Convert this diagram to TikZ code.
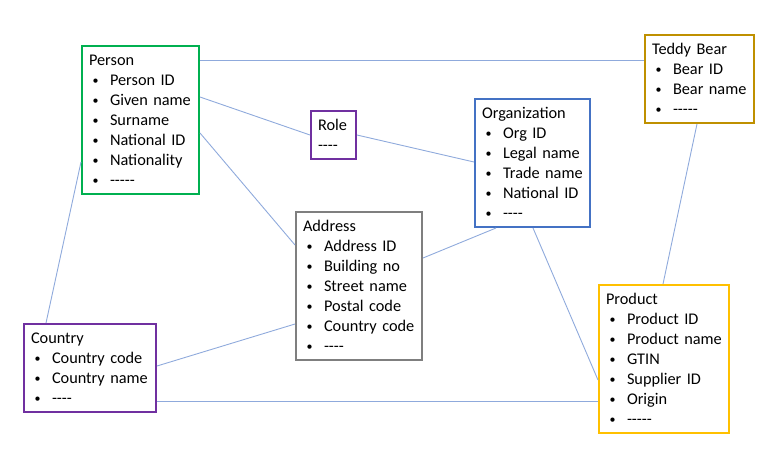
\documentclass[tikz,border=0pt]{standalone}
\usepackage{fontspec}
\setmainfont{Carlito}[Ligatures=TeXOff]
\usetikzlibrary{calc}
\definecolor{cgreen}{HTML}{00B050}
\definecolor{cbear}{HTML}{BF9000}
\definecolor{cpurple}{HTML}{7030A0}
\definecolor{cblue}{HTML}{4472C4}
\definecolor{cgray}{HTML}{7F7F7F}
\definecolor{cgold}{HTML}{FFC000}
\definecolor{cline}{HTML}{8FAADC}
\newcommand{\lstr}{\rule[-5pt]{0pt}{20pt}}
\newcommand{\bul}{\makebox[21pt][l]{\hspace{3.5pt}\raisebox{1pt}{\fontsize{12pt}{12pt}\selectfont\textbullet}}}
\begin{document}
\begin{tikzpicture}[x=1pt,y=-1pt,
  entity/.style={draw, line width=2pt, anchor=north west, align=left,
    inner xsep=7pt, inner ysep=4pt, font=\fontsize{16.3pt}{20pt}\selectfont},
  link/.style={draw=cline, line width=0.9pt}]
\useasboundingbox (0,0) rectangle (768,453);
\node[entity, draw=cgreen, text width=103pt] (person) at (81,45)
 {\lstr Person\\ \bul Person ID\lstr\\ \bul Given name\lstr\\ \bul Surname\lstr\\ \bul National ID\lstr\\ \bul Nationality\lstr\\ \bul -----\lstr};
\node[entity, draw=cbear, text width=95pt] (teddy) at (644,34)
 {\lstr Teddy Bear\\ \bul Bear ID\lstr\\ \bul Bear name\lstr\\ \bul -----\lstr};
\node[entity, draw=cpurple, text width=31pt] (role) at (310,110)
 {\lstr Role\\ \lstr ----};
\node[entity, draw=cblue, text width=101pt] (org) at (474,98)
 {\lstr Organization\\ \bul Org ID\lstr\\ \bul Legal name\lstr\\ \bul Trade name\lstr\\ \bul National ID\lstr\\ \bul ----\lstr};
\node[entity, draw=cgray, text width=112pt] (address) at (295,211)
 {\lstr Address\\ \bul Address ID\lstr\\ \bul Building no\lstr\\ \bul Street name\lstr\\ \bul Postal code\lstr\\ \bul Country code\lstr\\ \bul ----\lstr};
\node[entity, draw=cgold, text width=116pt] (product) at (598,284)
 {\lstr Product\\ \bul Product ID\lstr\\ \bul Product name\lstr\\ \bul GTIN\lstr\\ \bul Supplier ID\lstr\\ \bul Origin\lstr\\ \bul -----\lstr};
\node[entity, draw=cpurple, text width=118pt] (country) at (23,323)
 {\lstr Country\\ \bul Country code\lstr\\ \bul Country name\lstr\\ \bul ----\lstr};
\draw[link] ([yshift=-15pt]person.north east) -- ([yshift=-26pt]teddy.north west);
\draw[link] ([yshift=-52pt]person.north east) -- (role.west);
\draw[link] (role.east) -- ([yshift=-64pt]org.north west);
\draw[link] ([yshift=-88pt]person.north east) -- ([yshift=-34pt]address.north west);
\draw[link] ([yshift=33pt]person.south west) -- ([xshift=23pt]country.north west);
\draw[link] ([yshift=-47pt]address.north east) -- ([xshift=22pt]org.south west);
\draw[link] ([yshift=-43pt]country.north east) -- ([yshift=37pt]address.south west);
\draw[link] ([yshift=12pt]country.south east) -- ([yshift=33pt]product.south west);
\draw[link] ([xshift=59pt]org.south west) -- ([yshift=-96pt]product.north west);
\draw[link] ([xshift=53pt]teddy.south west) -- ([xshift=65pt]product.north west);
\end{tikzpicture}
\end{document}
